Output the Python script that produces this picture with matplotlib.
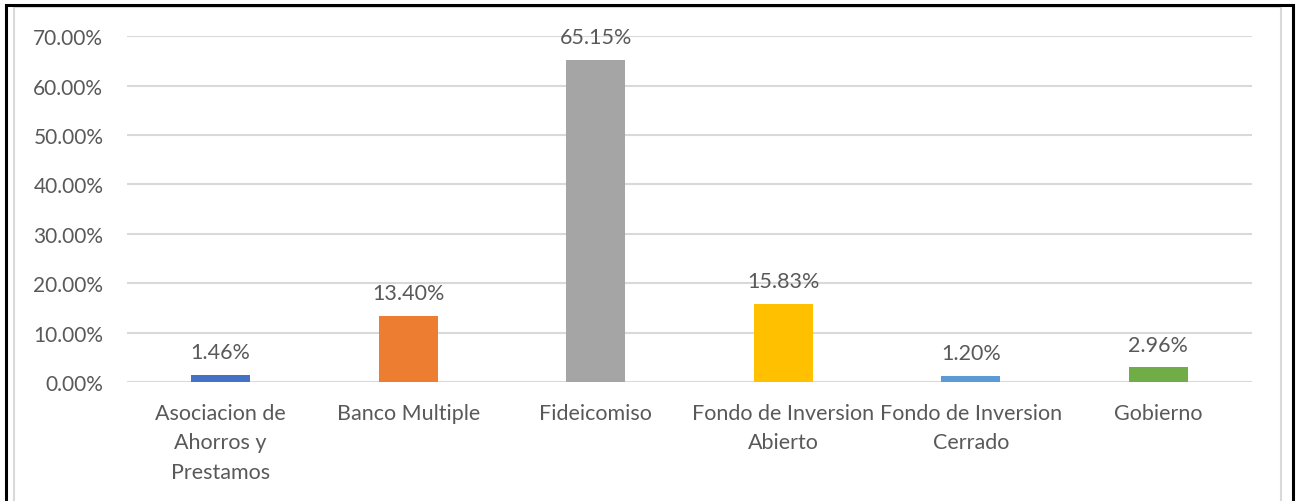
#!/usr/bin/env python

"""
Bar chart of percentage share by sector.
"""

import matplotlib.pyplot as plt
from matplotlib.patches import Rectangle

# Data
categories = [
    "Asociacion de\nAhorros y\nPrestamos",
    "Banco Multiple",
    "Fideicomiso",
    "Fondo de Inversion\nAbierto",
    "Fondo de Inversion\nCerrado",
    "Gobierno",
]
shares = [1.46, 13.40, 65.15, 15.83, 1.20, 2.96]
colors = ["#4472C4", "#ED7D31", "#A5A5A5", "#FFC000", "#5B9BD5", "#70AD47"]
y_ticks = [0, 10, 20, 30, 40, 50, 60, 70]

TEXT = "#595959"


def plot_shares():
    plt.rcParams["font.family"] = ["Lato", "DejaVu Sans"]
    fig = plt.figure(figsize=(12.98, 5.02), dpi=100)
    ax = fig.add_axes([0.0978, 0.237, 0.8668, 0.689])

    x = range(len(categories))
    bars = ax.bar(x, shares, width=0.315, color=colors, zorder=3)
    for bar, val in zip(bars, shares):
        ax.annotate(f"{val:.2f}%", (bar.get_x() + bar.get_width() / 2, bar.get_height()),
                    xytext=(0, 12), textcoords="offset points", ha="center", va="baseline",
                    fontsize=15.5, color=TEXT)

    ax.set_xlim(-0.5, len(categories) - 0.5)
    ax.set_ylim(0, 70)
    ax.set_yticks(y_ticks)
    ax.set_yticklabels([f"{t:.2f}%" for t in y_ticks])
    ax.set_xticks(list(x))
    ax.set_xticklabels(categories, linespacing=1.6)
    ax.tick_params(axis="y", length=0, pad=17, labelsize=15, labelcolor=TEXT)
    ax.tick_params(axis="x", length=0, pad=15, labelsize=15.5, labelcolor=TEXT)
    ax.grid(axis="y", color="#D9D9D9", linewidth=1.5, zorder=0)
    for s in ax.spines.values():
        s.set_visible(False)

    # frame lines around the chart
    W, H = 1298, 502
    fig.patches.append(Rectangle((14.5 / W, -0.1), (1281 - 14.5) / W, (H - 7.5) / H + 0.1,
                                 transform=fig.transFigure, fill=False,
                                 edgecolor="#D9D9D9", linewidth=1.5))
    fig.patches.append(Rectangle((6 / W, -0.1), (1293 - 6) / W, (H - 6) / H + 0.1,
                                 transform=fig.transFigure, fill=False,
                                 edgecolor="black", linewidth=2.2))

    fig.savefig("out.png", dpi=100)


if __name__ == "__main__":
    plot_shares()
